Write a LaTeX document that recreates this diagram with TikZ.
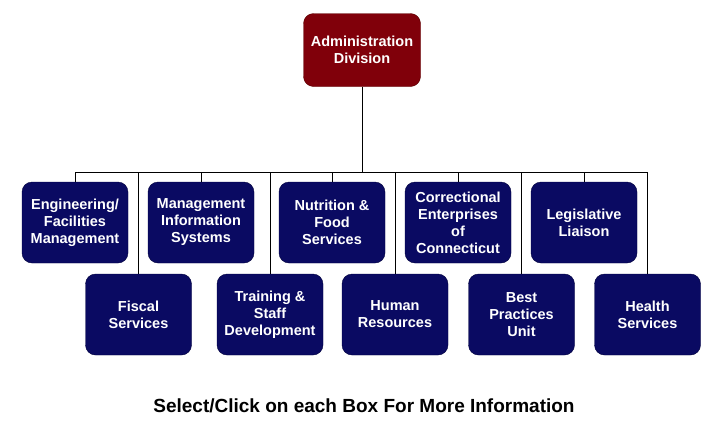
\documentclass[tikz,border=0pt]{standalone}
\usepackage{fontspec}
\setmainfont{Liberation Sans}
\definecolor{navybox}{RGB}{10,10,98}
\definecolor{navyline}{RGB}{0,0,60}
\definecolor{redbox}{RGB}{128,0,10}
\definecolor{redline}{RGB}{90,0,0}
\begin{document}
\begin{tikzpicture}[x=1pt,y=-1pt,
	unitbox/.style={draw=navyline,fill=navybox,rounded corners=10pt,minimum width=106pt,minimum height=81pt,text=white,align=center,font=\bfseries\fontsize{14.5}{17}\selectfont,inner sep=0pt},
	headbox/.style={unitbox,draw=redline,fill=redbox,minimum width=117pt,minimum height=73pt}]
				\useasboundingbox (0,0) rectangle (713,429);

				\node (adm) at (362,50) [headbox] {Administration\\Division};
				\coordinate (bus) at (362,172);

				\node (eng) at (75,222.5) [unitbox] {Engineering/\\Facilities\\Management};
				\node (mis) at (201,222.5) [unitbox] {Management\\Information\\Systems};
				\node (nut) at (332,222.5) [unitbox] {Nutrition \&\\Food\\Services};
				\node (ce) at (458,222.5) [unitbox] {Correctional\\Enterprises\\of\\Connecticut};
				\node (leg) at (584,222.5) [unitbox] {Legislative\\Liaison};

				\node (fis) at (138.5,314.5) [unitbox] {Fiscal\\Services};
				\node (tsd) at (270,314.5) [unitbox] {Training \&\\Staff\\Development};
				\node (hr) at (395,314.5) [unitbox] {Human\\Resources};
				\node (bpu) at (521.5,314.5) [unitbox] {Best\\Practices\\Unit};
				\node (hs) at (647.5,314.5) [unitbox] {Health\\Services};

				\draw (adm) -- (bus);
				\draw (bus) -| (eng.north);
				\draw (bus) -| (mis.north);
				\draw (bus) -| (nut.north);
				\draw (bus) -| (ce.north);
				\draw (bus) -| (leg.north);
				\draw (bus) -| (fis.north);
				\draw (bus) -| (tsd.north);
				\draw (bus) -| (hr.north);
				\draw (bus) -| (bpu.north);
				\draw (bus) -| (hs.north);

				\node (note) at (364,406) [font=\bfseries\fontsize{19}{22}\selectfont] {Select/Click on each Box For More Information};
			\end{tikzpicture}
\end{document}
